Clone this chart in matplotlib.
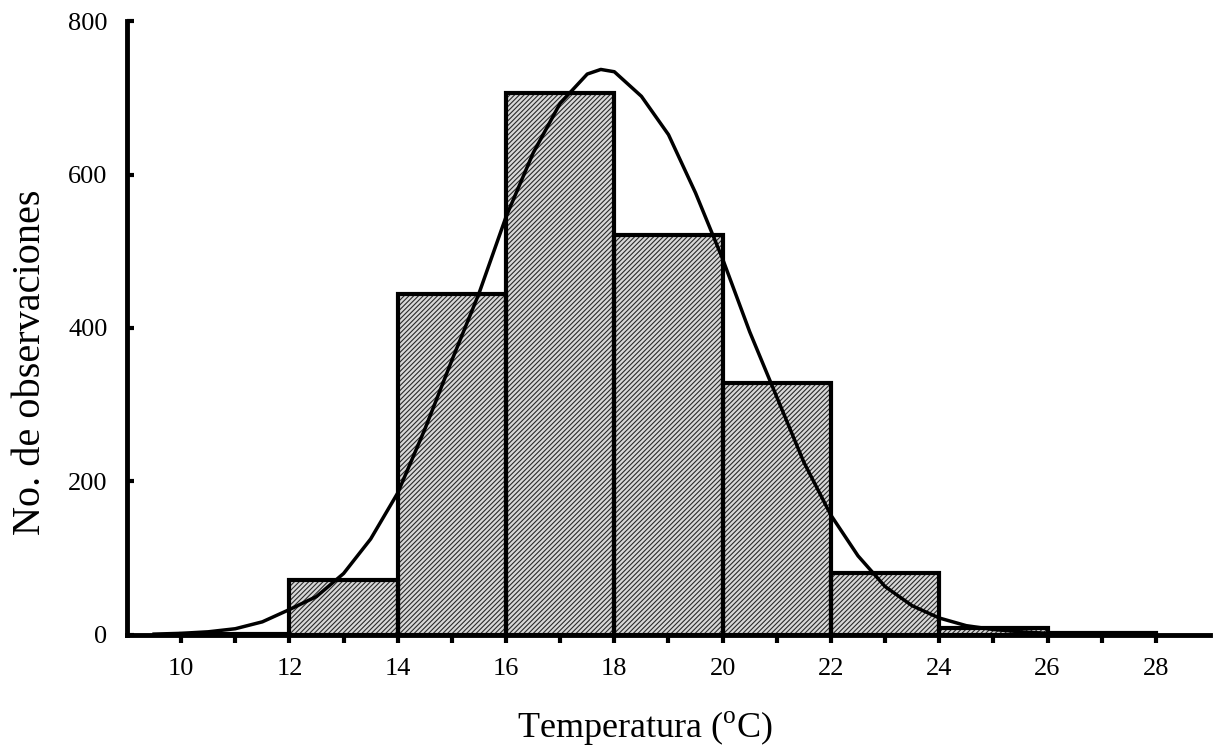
import numpy as np
import matplotlib.pyplot as plt

plt.rcParams['font.family'] = ['Liberation Serif', 'DejaVu Serif']
plt.rcParams['mathtext.fontset'] = 'custom'
plt.rcParams['mathtext.rm'] = 'Liberation Serif'
plt.rcParams['hatch.linewidth'] = 0.8

# histogram bins (temperature, 2 degree classes)
bin_left = [10, 12, 14, 16, 18, 20, 22, 24, 26]
counts = [1, 72, 444, 706, 521, 328, 81, 9, 3]

# fitted normal curve
curve_x = [9.5, 10, 10.5, 11, 11.5, 12, 12.5, 13, 13.5, 14, 14.5, 15, 15.5, 16,
           16.5, 17, 17.5, 17.75, 18, 18.5, 19, 19.5, 20, 20.5, 21, 21.5, 22,
           22.5, 23, 23.5, 24, 24.5, 25, 25.5, 26, 27, 28]
curve_y = [1, 2, 4, 8, 17, 33, 50, 80, 125, 185, 268, 358, 445, 545,
           628, 693, 731, 737, 734, 702, 652, 576, 490, 395, 310, 225, 156,
           103, 63, 38, 22, 12, 7, 4, 2, 1, 0.5]

fig = plt.figure(figsize=(12.13, 7.54), dpi=100)
ax = fig.add_axes([0.1047, 0.158, 0.8928, 0.814])

ax.bar(bin_left, counts, width=2, align='edge', color='#d8d8d8',
       edgecolor='#2a2a2a', hatch='///////', linewidth=0, zorder=2)
ax.bar(bin_left, counts, width=2, align='edge', fill=False,
       edgecolor='black', linewidth=3, zorder=3)
ax.plot(curve_x, curve_y, color='black', linewidth=2.5, zorder=4,
        solid_joinstyle='round')

ax.set_xlim(9, 29)
ax.set_ylim(0, 800)
for s in ['top', 'right']:
    ax.spines[s].set_visible(False)
for s in ['left', 'bottom']:
    ax.spines[s].set_linewidth(3.5)
    ax.spines[s].set_zorder(5)

ax.set_xticks(range(10, 29, 2))
ax.set_xticks(range(11, 28, 2), minor=True)
ax.set_yticks(range(0, 801, 200))
ax.tick_params(axis='x', which='both', direction='out', length=6, width=3,
               labelsize=19, pad=11)
ax.tick_params(axis='y', direction='in', length=5, width=3,
               labelsize=19, pad=14)

fig.text(0.532, 0.035, 'Temperatura ($^{\\rm o}$C)', fontsize=26,
         ha='center', va='center')
fig.text(0.025, 0.519, 'No. de observaciones', fontsize=29,
         rotation=90, ha='center', va='center')

fig.savefig('out.png', dpi=100)
